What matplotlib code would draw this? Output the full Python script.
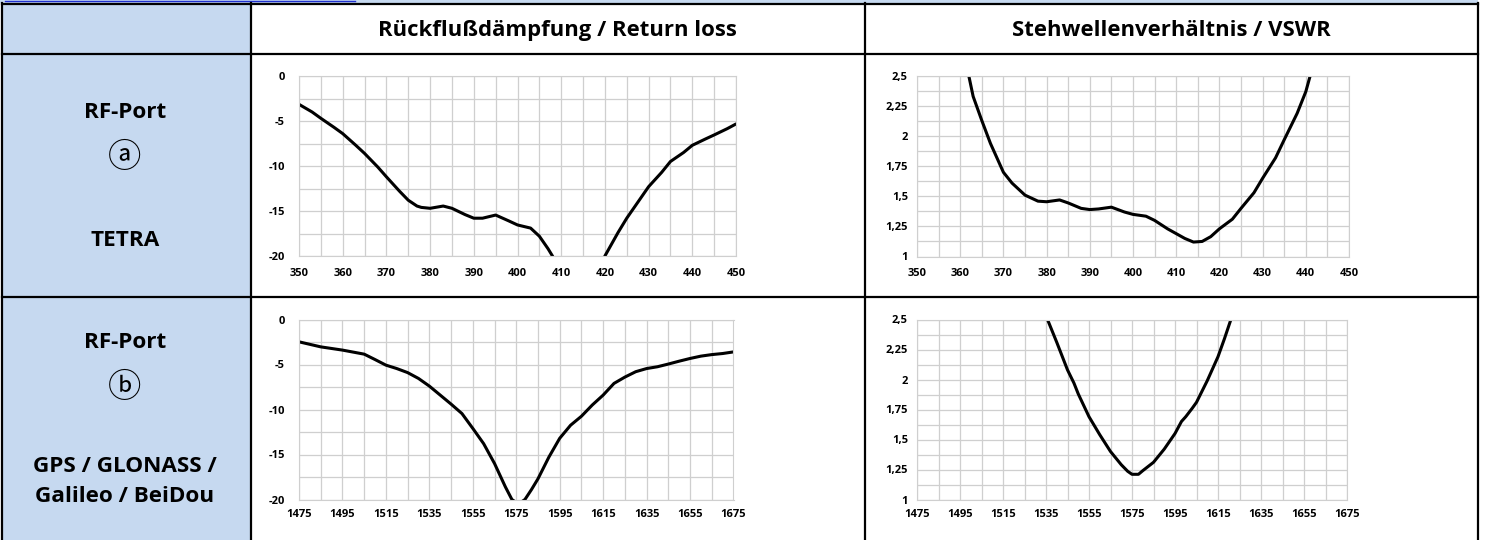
import matplotlib
matplotlib.use("Agg")
import matplotlib.pyplot as plt
from matplotlib.lines import Line2D
from matplotlib.patches import Rectangle

W, H = 1485, 540
FONT = "Open Sans"
BLUE_FILL = "#c6d9f0"
GRID = "#cfcfcf"

# TETRA port (a)
tetra_rl_f = [350, 353, 355, 358, 360, 363, 365, 368, 370, 373, 375, 377, 378, 380, 383, 385, 388, 390, 392,
              395, 398, 400, 403, 405, 407, 408, 411, 414, 417, 420, 423, 425, 428, 430, 433, 435, 438, 440,
              443, 445, 448, 450]
tetra_rl = [-3.15, -4.0, -4.7, -5.7, -6.4, -7.7, -8.6, -10.1, -11.2, -12.8, -13.8, -14.45, -14.6, -14.7, -14.45,
            -14.7, -15.4, -15.8, -15.8, -15.45, -16.1, -16.55, -16.9, -17.8, -19.2, -20.0, -23.0, -25.0, -23.5,
            -20.0, -17.4, -15.8, -13.7, -12.3, -10.7, -9.5, -8.5, -7.7, -7.0, -6.55, -5.85, -5.33]

tetra_vswr_f = [362, 363, 365, 367, 370, 372, 375, 378, 380, 383, 385, 388, 390, 392, 395, 398, 400, 403, 405,
                408, 410, 412, 414, 416, 418, 420, 423, 425, 428, 430, 433, 435, 438, 440, 441]
tetra_vswr = [2.5, 2.33, 2.13, 1.94, 1.70, 1.61, 1.51, 1.46, 1.455, 1.47, 1.445, 1.40, 1.39, 1.395, 1.41, 1.37,
              1.35, 1.335, 1.30, 1.23, 1.19, 1.15, 1.12, 1.125, 1.165, 1.23, 1.31, 1.40, 1.53, 1.65, 1.82,
              1.97, 2.19, 2.37, 2.5]

# GNSS port (b)
gnss_rl_f = [1475, 1485, 1495, 1505, 1510, 1515, 1520, 1525, 1530, 1535, 1540, 1545, 1550, 1555, 1560, 1565,
             1570, 1573, 1576, 1579, 1582, 1585, 1590, 1595, 1600, 1605, 1610, 1615, 1620, 1625, 1630, 1635, 1640,
             1645, 1650, 1655, 1660, 1665, 1670, 1675]
gnss_rl = [-2.48, -3.04, -3.4, -3.85, -4.45, -5.07, -5.45, -5.9, -6.55, -7.4, -8.4, -9.4, -10.45, -12.1, -13.8,
           -16.0, -18.6, -20.0, -20.5, -20.0, -18.9, -17.7, -15.3, -13.2, -11.75, -10.75, -9.5, -8.4, -7.1, -6.4,
           -5.8, -5.45, -5.25, -4.95, -4.63, -4.33, -4.07, -3.9, -3.78, -3.6]

gnss_vswr_f = [1535.7, 1540, 1545, 1548, 1550, 1555, 1560, 1565, 1570, 1573, 1575, 1578, 1580, 1585, 1590, 1595,
               1598, 1600, 1603, 1605, 1610, 1615, 1618, 1621]
gnss_vswr = [2.5, 2.31, 2.08, 1.97, 1.88, 1.69, 1.54, 1.40, 1.29, 1.235, 1.21, 1.21, 1.24, 1.31, 1.42, 1.55,
             1.65, 1.69, 1.76, 1.81, 1.99, 2.19, 2.34, 2.5]

rl_ticks = [0, -5, -10, -15, -20]
rl_labels = ["0", "-5", "-10", "-15", "-20"]
vswr_ticks = [2.5, 2.25, 2, 1.75, 1.5, 1.25, 1]
vswr_labels = ["2,5", "2,25", "2", "1,75", "1,5", "1,25", "1"]
tetra_xticks = list(range(350, 451, 10))
gnss_xticks = list(range(1475, 1676, 20))

headers = ["Rückflußdämpfung / Return loss", "Stehwellenverhältnis / VSWR"]


def add_chart(fig, box, f, vals, xlim, xticks, minor_x, ylim, yticks, ylabels, minor_y, xpad, ypad):
    x0, y0, x1, y1 = box
    ax = fig.add_axes([x0 / W, 1 - y1 / H, (x1 - x0) / W, (y1 - y0) / H])
    ax.plot(f, vals, color="black", lw=2.2, solid_joinstyle="round", solid_capstyle="round")
    ax.set_xlim(*xlim)
    ax.set_ylim(*ylim)
    ax.set_xticks(xticks)
    ax.set_xticks(minor_x, minor=True)
    ax.set_yticks(yticks)
    ax.set_yticklabels(ylabels)
    ax.set_yticks(minor_y, minor=True)
    ax.grid(True, which="both", color=GRID, lw=0.9)
    ax.set_axisbelow(True)
    for s in ax.spines.values():
        s.set_color(GRID)
    ax.tick_params(which="both", length=0)
    ax.tick_params(axis="x", pad=xpad)
    ax.tick_params(axis="y", pad=ypad)
    for lbl in ax.get_xticklabels() + ax.get_yticklabels():
        lbl.set_fontfamily(FONT)
        lbl.set_fontweight("bold")
        lbl.set_fontsize(8)
    return ax


fig = plt.figure(figsize=(W / 100, H / 100), dpi=100)

# table background
fig.add_artist(Rectangle((0, 1 - 3 / H), 1478 / W, 3 / H, transform=fig.transFigure, color=BLUE_FILL, lw=0))
fig.add_artist(Rectangle((2 / W, 0), 249 / W, 1 - 4 / H, transform=fig.transFigure, color=BLUE_FILL, lw=0))
fig.add_artist(Line2D([5 / W, 355 / W], [1 - 0.6 / H, 1 - 0.6 / H], color="#1f2fd0", lw=1))

# table lines
def hline(y, xa=2, xb=1478):
    fig.add_artist(Line2D([xa / W, xb / W], [1 - y / H, 1 - y / H], color="black", lw=1.6))

def vline(x, ya=3, yb=540):
    fig.add_artist(Line2D([x / W, x / W], [1 - ya / H, 1 - yb / H], color="black", lw=1.6))

hline(3.5)
hline(53.5)
hline(297)
vline(2)
vline(251)
vline(864.5)
vline(1477.5)

fig.text(557 / W, 1 - 31 / H, headers[0], ha="center", va="center", fontfamily=FONT, fontweight="bold", fontsize=15.9)
fig.text(1171 / W, 1 - 31 / H, headers[1], ha="center", va="center", fontfamily=FONT, fontweight="bold", fontsize=15.9)

# left column labels
lab = dict(ha="center", va="center", fontfamily=FONT, fontweight="bold", fontsize=16.2)
fig.text(125 / W, 1 - 113 / H, "RF-Port", **lab)
fig.text(125 / W, 1 - 241 / H, "TETRA", **lab)
fig.text(125 / W, 1 - 343 / H, "RF-Port", **lab)
fig.text(125 / W, 1 - 466 / H, "GPS / GLONASS /", **lab)
fig.text(125 / W, 1 - 497 / H, "Galileo / BeiDou", **lab)
circ = dict(ha="center", va="center", fontfamily=["Noto Sans CJK JP", "DejaVu Sans"], fontsize=24)
fig.text(125 / W, 1 - 158 / H, "ⓐ", **circ)
fig.text(125 / W, 1 - 388 / H, "ⓑ", **circ)

tetra_minor_x = list(range(350, 451, 5))
gnss_minor_x = list(range(1475, 1676, 10))
rl_minor = [-2.5 * i for i in range(9)]
vswr_minor = [1 + 0.125 * i for i in range(13)]

add_chart(fig, (299, 76, 736, 256), tetra_rl_f, tetra_rl, (350, 450), tetra_xticks, tetra_minor_x,
          (-20, 0), rl_ticks, rl_labels, rl_minor, 8.5, 10)
add_chart(fig, (917, 76, 1349, 256.5), tetra_vswr_f, tetra_vswr, (350, 450), tetra_xticks, tetra_minor_x,
          (1, 2.5), vswr_ticks, vswr_labels, vswr_minor, 8.5, 6.5)
add_chart(fig, (299, 319.5, 733.5, 499.5), gnss_rl_f, gnss_rl, (1475, 1675), gnss_xticks, gnss_minor_x,
          (-20, 0), rl_ticks, rl_labels, rl_minor, 6.5, 10)
add_chart(fig, (917, 319.5, 1347, 499.5), gnss_vswr_f, gnss_vswr, (1475, 1675), gnss_xticks, gnss_minor_x,
          (1, 2.5), vswr_ticks, vswr_labels, vswr_minor, 6.5, 6.5)

fig.savefig("out.png", dpi=100)
